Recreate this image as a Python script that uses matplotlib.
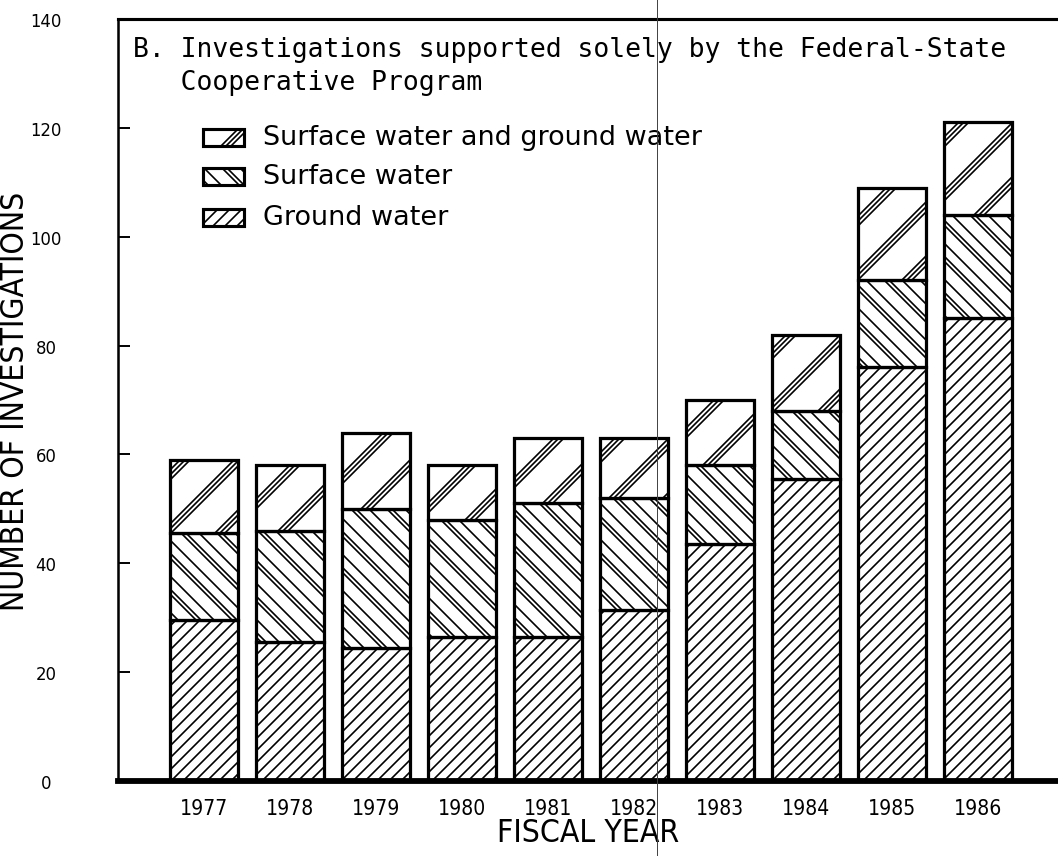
import os
import numpy as np
import matplotlib
matplotlib.use("Agg")
import matplotlib.pyplot as plt
from matplotlib import font_manager
from matplotlib.font_manager import FontProperties
from matplotlib.collections import LineCollection
from matplotlib.patches import Rectangle
from matplotlib.transforms import IdentityTransform
from matplotlib.lines import Line2D

years = ["1977", "1978", "1979", "1980", "1981", "1982", "1983", "1984", "1985", "1986"]
ground_water = [29.5, 25.5, 24.5, 26.5, 26.5, 31.5, 43.5, 55.5, 76, 85]
surface_water = [16, 20.5, 25.5, 21.5, 24.5, 20.5, 14.5, 12.5, 16, 19]
both_waters = [13.5, 12, 14, 10, 12, 11, 12, 14, 17, 17]
yticks = [0, 20, 40, 60, 80, 100, 120, 140]

W, H, DPI = 1058, 857, 140


def narrow_font():
    # a regular condensed sans face if one is installed
    skip = ("bold", "italic", "light", "thin", "black", "medium", "semi",
            "extra", "oblique", "serif", "mono")
    prefer = ("liberationsansnarrow", "dejavusanscondensed", "notosans-condensed",
              "roboto", "opensans")
    found = []
    for f in font_manager.fontManager.ttflist:
        base = os.path.basename(f.fname).lower()
        if ("condensed" in base or "narrow" in base) and not any(s in base for s in skip):
            rank = next((i for i, p in enumerate(prefer) if p in base), len(prefer))
            found.append((rank, f.fname))
    if found:
        return FontProperties(fname=sorted(found)[0][1])
    return FontProperties(family="DejaVu Sans")


def fit(fig, text, target, vertical=False):
    # scale a text so that its length comes out at target pixels
    r = fig.canvas.get_renderer()
    bb = text.get_window_extent(r)
    length = bb.height if vertical else bb.width
    return text.get_fontsize() * target / length


def hatch(ax, patch, direction, offsets, period, phase=0.0, lw=0.85):
    # diagonal line groups in pixel space, clipped to the patch
    bb = patch.get_window_extent()
    x0, y0, x1, y1 = bb.x0, bb.y0, bb.x1, bb.y1
    segs = []
    if direction == "/":
        cmin, cmax = x0 - y1, x1 - y0
    else:
        cmin, cmax = x0 + y0, x1 + y1
    k0 = int(np.floor((cmin - phase) / period)) - 1
    k1 = int(np.ceil((cmax - phase) / period)) + 1
    for k in range(k0, k1 + 1):
        for off in offsets:
            c = phase + k * period + off
            if direction == "/":
                segs.append([(c + y0 - 5, y0 - 5), (c + y1 + 5, y1 + 5)])
            else:
                segs.append([(c - y0 + 5, y0 - 5), (c - y1 - 5, y1 + 5)])
    lc = LineCollection(segs, colors="black", linewidths=lw,
                        transform=IdentityTransform(), zorder=3)
    ax.add_collection(lc, autolim=False)
    lc.set_clip_path(patch)


styles = {
    "gw": ("/", [0], 12.0),
    "sw": ("\\", [0, 5, 18], 36.0),
    "both": ("/", [0, 5, 10], 54.0),
}

fig = plt.figure(figsize=(W / DPI, H / DPI), dpi=DPI)
ax = fig.add_axes([118 / W, 75 / H, 940 / W, 762 / H])

x = np.arange(len(years))
ax.set_xlim(-1, (W - 204) / 86)
ax.set_ylim(0, 140)

gw = np.array(ground_water, float)
sw = np.array(surface_water, float)
bo = np.array(both_waters, float)

layers = [(gw, np.zeros_like(gw), "gw"),
          (sw, gw, "sw"),
          (bo, gw + sw, "both")]
for vals, base, key in layers:
    bars = ax.bar(x, vals, bottom=base, width=0.79, color="white",
                  edgecolor="black", linewidth=1.6, zorder=2)
    d, offs, per = styles[key]
    for i, b in enumerate(bars):
        hatch(ax, b, d, offs, per, phase=i * 7.0)
    # outlines on top of the hatching
    ax.bar(x, vals, bottom=base, width=0.79, fill=False,
           edgecolor="black", linewidth=1.6, zorder=4)

# axes frame
ax.spines["right"].set_visible(False)
ax.spines["bottom"].set_linewidth(3.0)
ax.spines["bottom"].set_zorder(5)
ax.spines["left"].set_linewidth(1.3)
ax.spines["top"].set_linewidth(1.6)

ax.set_yticks(yticks)
ax.tick_params(axis="y", direction="in", length=6, width=1.0, pad=37,
               labelsize=8.5)
for t in ax.get_yticklabels():
    t.set_horizontalalignment("center")

# condensed face for the years and axis titles
nf = narrow_font()
probe = fig.text(0, 0, "1977", fontproperties=nf, fontsize=10)
year_size = fit(fig, probe, 48)
probe.remove()

ax.set_xticks(x)
ax.set_xticklabels(years, fontproperties=nf, fontsize=year_size)
ax.tick_params(axis="x", length=0, pad=9)

ylab = ax.set_ylabel("NUMBER OF INVESTIGATIONS", fontproperties=nf, fontsize=14,
                     va="center")
ylab.set_fontsize(fit(fig, ylab, 420, vertical=True))
ax.yaxis.set_label_coords(-0.109, 0.5)
xlab = ax.set_xlabel("FISCAL YEAR", fontproperties=nf, fontsize=14, va="center")
xlab.set_fontsize(fit(fig, xlab, 182))
ax.xaxis.set_label_coords(0.5, -0.068)

# heading
mono = "DejaVu Sans Mono"
fig.text(133 / W, 1 - 57 / H, "B. Investigations supported solely by the Federal-State",
         family=mono, fontsize=13.6, va="baseline", ha="left")
fig.text(133 / W, 1 - 90 / H, "   Cooperative Program",
         family=mono, fontsize=13.6, va="baseline", ha="left")

# legend drawn by hand on an overlay in pixel units
lg = fig.add_axes([0, 0, 1, 1], frameon=False)
lg.set_axis_off()
entries = [("both", "Surface water and ground water", 138, 51.0),
           ("sw", "Surface water", 177, 10.0),
           ("gw", "Ground water", 218, 3.0)]
for key, label, yc, ph in entries:
    r = Rectangle((203, H - yc - 8.5), 41, 17, transform=IdentityTransform(),
                  facecolor="white", edgecolor="none", zorder=2)
    lg.add_artist(r)
    d, offs, per = styles[key]
    hatch(lg, r, d, offs, per, phase=ph)
    edge = Rectangle((203, H - yc - 8.5), 41, 17, transform=IdentityTransform(),
                     fill=False, edgecolor="black", linewidth=1.6, zorder=4)
    lg.add_artist(edge)
    lg.text(263 / W, 1 - yc / H, label, family="DejaVu Sans", fontsize=13.9,
            va="center", ha="left", transform=fig.transFigure)

# fold line across the sheet
fig.add_artist(Line2D([657 / W, 657 / W], [0, 1], color="0.25", linewidth=0.5))

fig.savefig("out.png", dpi=DPI)
